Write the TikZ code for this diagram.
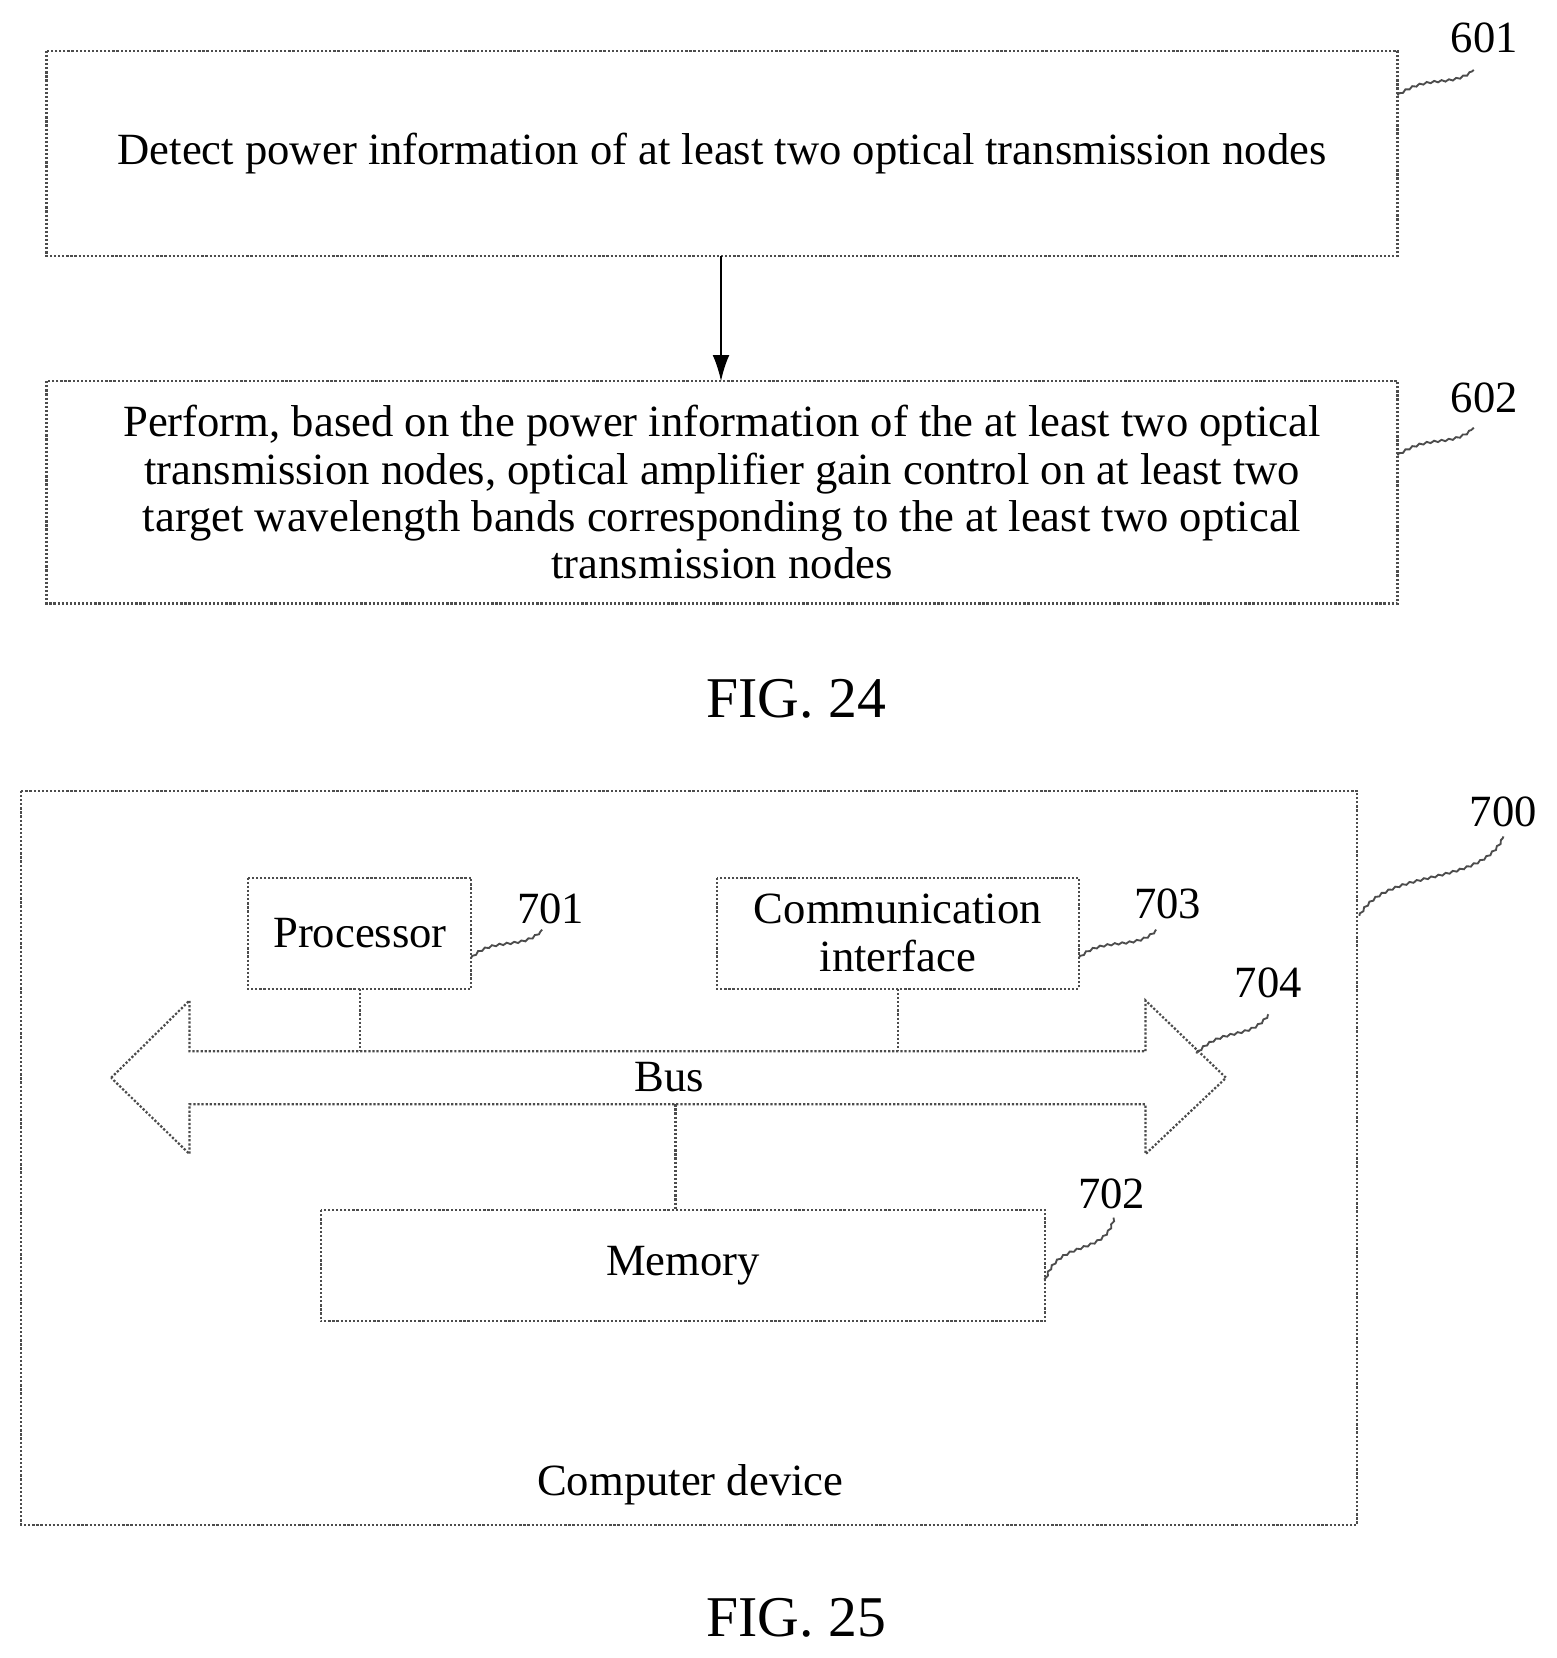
\documentclass[tikz,border=0pt]{standalone}
\usepackage{fontspec}
\setmainfont{Liberation Serif}
\usepackage{tikz}
\usetikzlibrary{decorations.pathmorphing,arrows.meta}

\begin{document}
\begin{tikzpicture}[x=0.02cm,y=-0.02cm,
  box/.style={draw=black!70, densely dotted, line width=1.2pt},
  txt/.style={font=\fontsize{24}{25.5}\selectfont, align=center},
  fig/.style={font=\fontsize{31}{34}\selectfont},
  lead/.style={draw=black!70, line width=1pt, decorate, decoration={snake, amplitude=0.5pt, segment length=4pt}}]

\useasboundingbox (0,0) rectangle (1470,1566);

% FIG. 24
\draw[box] (44,48) rectangle (1320,242);
\node[txt] (s601) at (682,145) {Detect power information of at least two optical transmission nodes};
\draw[box] (44,360) rectangle (1320,570);
\node[txt] (s602) at (682,465) {Perform, based on the power information of the at least two optical\\
transmission nodes, optical amplifier gain control on at least two\\
target wavelength bands corresponding to the at least two optical\\
transmission nodes};
\coordinate (a1) at (681,242);
\coordinate (a2) at (681,360);
\draw[-{Latex[length=14pt,width=9pt]}, line width=1pt] (a1) -- (a2);

\node[txt] (l601) at (1402,36) {601};
\draw[lead] (1320,90) .. controls (1350,70) and (1370,85) .. (1392,66);
\node[txt] (l602) at (1402,376) {602};
\draw[lead] (1320,430) .. controls (1350,410) and (1370,425) .. (1392,404);
\node[fig] (f24) at (752,660) {FIG. 24};

% FIG. 25
\draw[box] (20,747) rectangle (1282,1440);
\node[txt] (l700) at (1420,767) {700};
\draw[lead] (1284,865) .. controls (1310,820) and (1400,840) .. (1420,790);

\draw[box] (234,829) rectangle (445,934);
\node[txt] (proc) at (340,881) {Processor};
\node[txt] (l701) at (520,858) {701};
\draw[lead] (445,905) .. controls (465,885) and (495,900) .. (512,878);

\draw[box] (677,829) rectangle (1019,934);
\node[txt] (comm) at (848,881) {Communication\\interface};
\node[txt] (l703) at (1103,854) {703};
\draw[lead] (1019,905) .. controls (1040,885) and (1075,900) .. (1092,878);

\draw[box] (105,1018) -- (179,945) -- (179,993) -- (1082,993) -- (1082,945)
  -- (1158,1018) -- (1082,1090) -- (1082,1043) -- (179,1043) -- (179,1090) -- cycle;
\node[txt] (bus) at (632,1017) {Bus};
\node[txt] (l704) at (1198,928) {704};
\draw[lead] (1130,995) .. controls (1155,970) and (1180,985) .. (1198,958);

\draw[box] (340,934) -- (340,993);
\draw[box] (848,934) -- (848,993);
\draw[box] (638,1043) -- (638,1143);

\draw[box] (303,1143) rectangle (987,1248);
\node[txt] (mem) at (645,1195) {Memory};
\node[txt] (l702) at (1050,1128) {702};
\draw[lead] (987,1210) .. controls (1000,1170) and (1045,1190) .. (1052,1150);

\node[txt] (dev) at (652,1402) {Computer device};
\node[fig] (f25) at (752,1528) {FIG. 25};
\end{tikzpicture}
\end{document}
